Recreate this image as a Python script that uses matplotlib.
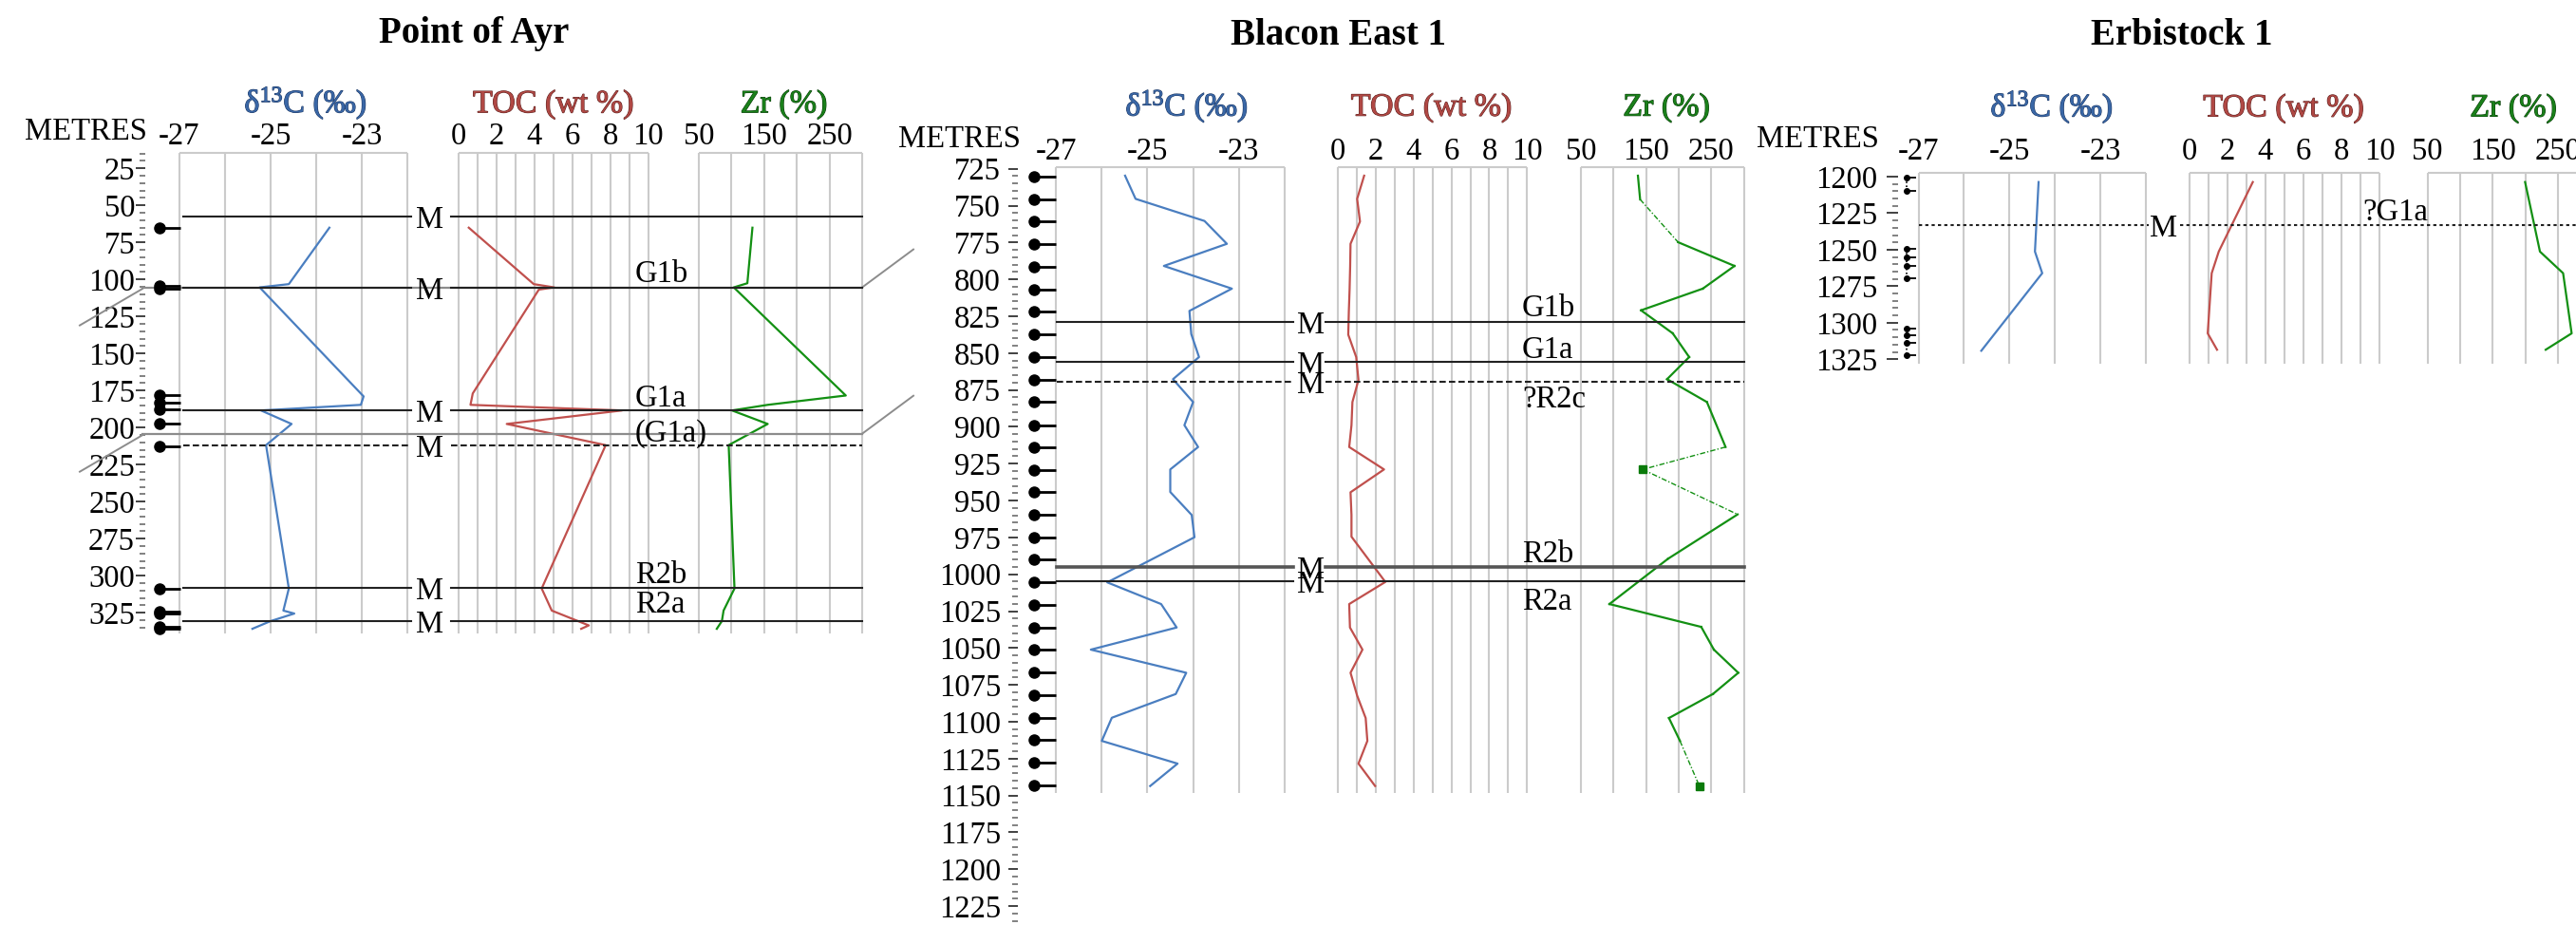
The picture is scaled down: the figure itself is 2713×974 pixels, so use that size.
import numpy as np
import matplotlib
matplotlib.use("Agg")
import matplotlib.pyplot as plt
import matplotlib.patheffects as pe
from matplotlib.ticker import FixedLocator, MultipleLocator
from matplotlib.transforms import offset_copy, blended_transform_factory

# ======================= DATA =======================
# ---- Point of Ayr ----
poa_d13c_depth = [65.1, 103.2, 105.4, 179.0, 184.7, 188.5, 197.6, 211.9, 308.7, 323.6, 325.6, 330.7, 335.9]
poa_d13c = [-23.71, -24.60, -25.24, -22.96, -23.02, -25.21, -24.54, -25.10, -24.60, -24.72, -24.48, -25.00, -25.40]
poa_toc_depth = [65.1, 103.2, 105.4, 106.9, 177.0, 184.7, 188.5, 197.6, 211.9, 308.7, 323.6, 333.6, 335.9]
poa_toc = [0.54, 3.96, 5.04, 4.23, 0.75, 0.63, 8.61, 2.54, 7.75, 4.38, 4.91, 6.86, 6.46]
poa_zr_depth = [65.1, 102.6, 105.4, 178.4, 184.7, 188.5, 197.6, 211.9, 308.7, 323.6, 330.7, 335.9]
poa_zr = [132.1, 124.3, 103.5, 275.1, 155.5, 100.9, 155.5, 95.7, 104.6, 87.9, 85.3, 77.5]
poa_samples = [65.1, 104.6, 106.0, 178.1, 183.3, 187.6, 197.6, 212.5, 308.7, 324.4, 325.8, 334.3, 335.7]
poa_markers = [57.3, 105.4, 188.5, 211.9, 308.4, 330.7]
poa_marker_uncertain = [False, False, False, True, False, False]
poa_breaks = [105.4, 204.2]
poa_labels = ["G1b", "G1a", "(G1a)", "R2b", "R2a"]
poa_label_depth = [101.8, 185.6, 209.1, 304.9, 324.9]
poa_depth_ticks = [25, 50, 75, 100, 125, 150, 175, 200, 225, 250, 275, 300, 325]

# ---- Blacon East 1 ----
bla_d13c_depth = [729.7, 745.4, 760.4, 775.9, 790.9, 806.3, 821.4, 837.1, 852.7, 867.7, 883.2, 898.9, 913.7,
                  928.9, 944.2, 959.8, 974.9, 1005.5, 1020.2, 1036.1, 1051.1, 1066.8, 1081.2, 1097.3, 1113.0,
                  1128.4, 1143.6]
bla_d13c = [-25.49, -25.26, -23.75, -23.26, -24.64, -23.15, -24.08, -24.04, -23.87, -24.44, -24.00, -24.19, -23.89,
            -24.50, -24.50, -24.03, -23.97, -25.88, -24.70, -24.36, -26.24, -24.15, -24.38, -25.78, -26.00,
            -24.34, -24.94]
bla_toc_depth = [729.7, 745.4, 760.8, 775.9, 791.5, 807.0, 822.0, 837.5, 852.7, 868.2, 883.2, 898.9, 913.7,
                 928.9, 944.4, 959.8, 974.5, 1005.2, 1020.2, 1036.1, 1051.1, 1066.8, 1082.3, 1097.5, 1113.0,
                 1128.4, 1143.6]
bla_toc = [1.39, 1.02, 1.17, 0.67, 0.65, 0.62, 0.58, 0.55, 0.97, 1.09, 0.77, 0.72, 0.60,
           2.44, 0.67, 0.72, 0.72, 2.51, 0.60, 0.64, 1.30, 0.67, 1.02, 1.47, 1.56, 1.09, 1.97]
bla_zr_depth = [729.7, 745.8, 774.8, 790.9, 806.3, 821.0, 836.6, 852.7, 867.7, 883.2, 913.7, 928.9, 959.4,
                989.5, 1020.2, 1035.7, 1051.1, 1066.8, 1081.2, 1097.5, 1113.0, 1144.0]
bla_zr = [137.4, 140.8, 199.0, 285.5, 236.9, 142.2, 190.8, 216.0, 182.1, 243.2, 271.8, 144.7, 290.3,
          183.5, 93.7, 234.5, 253.9, 291.3, 252.4, 185.0, 201.9, 232.0]
bla_zr_gap_segments = [1, 10, 11, 20]      # segments bridging missing samples
bla_zr_isolated = [11, 21]                 # isolated samples
bla_samples = [730.4, 745.8, 760.8, 776.3, 791.5, 807.0, 822.0, 837.5, 852.7, 868.2, 883.2, 898.9, 913.9, 929.4,
               944.4, 959.6, 974.9, 990.1, 1005.5, 1020.6, 1036.3, 1051.3, 1066.8, 1081.8, 1097.5, 1112.5,
               1128.0, 1143.0]
bla_markers = [829.1, 855.9, 869.7, 994.8, 1004.9]
bla_marker_uncertain = [False, False, True, False, False]
bla_labels = ["G1b", "G1a", "?R2c", "R2b", "R2a"]
bla_label_depth = [825.2, 853.2, 887.0, 991.6, 1023.8]
bla_depth_ticks = [725, 750, 775, 800, 825, 850, 875, 900, 925, 950, 975, 1000, 1025, 1050, 1075, 1100,
                   1125, 1150, 1175, 1200, 1225]

# ---- Erbistock 1 ----
erb_d13c_depth = [1203.7, 1251.3, 1266.1, 1319.2]
erb_d13c = [-24.36, -24.44, -24.28, -25.62]
erb_toc_depth = [1203.7, 1251.3, 1266.1, 1307.3, 1318.5]
erb_toc = [3.34, 1.55, 1.18, 0.97, 1.46]
erb_zr_depth = [1203.7, 1251.3, 1266.1, 1307.3, 1318.5]
erb_zr = [199.5, 222.3, 257.8, 270.9, 231.1]
erb_samples = [1200.8, 1209.6, 1249.6, 1255.1, 1261.1, 1269.8, 1304.0, 1308.8, 1313.8, 1322.2]
erb_sample_groups = [(0, 1), (2, 5), (6, 9)]
erb_markers = [1233.0]
erb_labels = ["?G1a"]
erb_label_depth = [1229.7]
erb_depth_ticks = [1200, 1225, 1250, 1275, 1300, 1325]

# axis ticks
d13c_ticks = [-27, -25, -23]
toc_ticks = [0, 2, 4, 6, 8, 10]
zr_ticks = [50, 150, 250]

# ======================= STYLE / LAYOUT =======================
W, H = 2713, 974
FS = 23.5
GRID = '#cbcbcb'
C_D13, C_TOC, C_ZR = '#4a7ec0', '#c0504d', '#139013'
T_D13, T_TOC, T_ZR = '#3a67a6', '#b04844', '#1a801a'
E_D13, E_TOC, E_ZR = '#1f3a66', '#5e2220', '#0b3d0b'

plt.rcParams['font.family'] = ['Liberation Serif', 'DejaVu Serif']
plt.rcParams['mathtext.fontset'] = 'custom'
plt.rcParams['mathtext.rm'] = 'Liberation Serif'
plt.rcParams['mathtext.it'] = 'Liberation Serif:italic'
plt.rcParams['mathtext.bf'] = 'Liberation Serif:bold'

fig = plt.figure(figsize=(W / 100, H / 100), dpi=100)
fig_ax = fig.add_axes([0, 0, 1, 1])
fig_ax.set_xlim(0, W)
fig_ax.set_ylim(H, 0)
fig_ax.axis('off')


def px_axes(x0, y0, x1, y1):
    return fig.add_axes([x0 / W, 1 - y1 / H, (x1 - x0) / W, (y1 - y0) / H])


def y2d(p, y):
    return p['d_ref'] + (y - p['y_ref']) / p['s']


def overlay(p):
    ov = fig.add_axes([0, 0, 1, 1])
    ov.set_xlim(0, W)
    ov.set_ylim(y2d(p, H), y2d(p, 0))
    ov.axis('off')
    ov.patch.set_alpha(0)
    return ov


def column(p, x0, x1, lo, hi, step, ticks, title, tcolor, ecolor, title_x):
    top, bot = p['top'], p['bottom']
    ax = px_axes(x0, top, x1, bot)
    dtop, dbot = y2d(p, top), y2d(p, bot)
    ax.set_xlim(lo, hi)
    ax.set_ylim(dbot, dtop)
    ax.axis('off')
    ax.vlines(np.arange(lo, hi + step / 2, step), dbot, dtop, color=GRID, lw=1.5, zorder=0, clip_on=False)
    ax.hlines(dtop, lo, hi, color=GRID, lw=1.5, zorder=0, clip_on=False)
    tr = blended_transform_factory(ax.transData, fig_ax.transData)
    for v in ticks:
        ax.text(v, p['tick_base'], f'{v:g}', transform=tr, ha='center', va='baseline', fontsize=FS)
    fig_ax.text(title_x, p['title_base'], title, color=tcolor, ha='center', va='baseline', fontsize=FS + 1,
                path_effects=[pe.withStroke(linewidth=0.8, foreground=ecolor)])
    return ax


def depth_axis(p, x, dmin, dmax, majors, major_len, pad):
    top = p['y_ref'] + (dmin - p['d_ref']) * p['s']
    bot = p['y_ref'] + (dmax - p['d_ref']) * p['s']
    ax = px_axes(x - 1, top, x, bot)
    ax.set_ylim(dmax, dmin)
    ax.set_xticks([])
    for sp in ax.spines.values():
        sp.set_visible(False)
    ax.patch.set_alpha(0)
    ax.yaxis.set_major_locator(FixedLocator(majors))
    ax.yaxis.set_minor_locator(MultipleLocator(5))
    ax.set_yticklabels([str(m) for m in majors])
    ax.tick_params(axis='y', which='major', length=major_len * 0.72, width=1.3, color='#333333',
                   pad=pad * 0.72, labelsize=FS)
    ax.tick_params(axis='y', which='minor', length=6 * 0.72, width=1.3, color='#777777')
    return ax


def markers(ov, depths, uncertain, segs, style_thick=None, dash=(0, (3.2, 1.6))):
    for i, d in enumerate(depths):
        ls = dash if uncertain[i] else '-'
        col, lw = '#222222', 1.5
        if style_thick is not None and i in style_thick:
            col, lw = '#555555', 2.6
        for xa, xb in segs:
            ov.plot([xa, xb], [d, d], color=col, lw=lw, ls=ls, zorder=3)


def m_labels(ov, depths, xm):
    tr = offset_copy(ov.transData, fig=fig, x=0, y=-12, units='dots')
    for d in depths:
        ov.text(xm, d, 'M', transform=tr, ha='center', va='baseline', fontsize=FS, zorder=4)


D13_TITLE = r'δ$^{\mathrm{13}}$C (‰)'

# ======================= POINT OF AYR =======================
poa = dict(d_ref=25, y_ref=177.2, s=1.5597, top=160.7, bottom=667.4, tick_base=151.8, title_base=118.3)
fig_ax.text(499, 45, 'Point of Ayr', ha='center', va='baseline', fontsize=28, fontweight='bold')
fig_ax.text(155, 147, 'METRES', ha='right', va='baseline', fontsize=FS)
a1 = column(poa, 189, 429, -27, -22, 1, d13c_ticks, D13_TITLE, T_D13, E_D13, 322)
a2 = column(poa, 482.9, 682.9, 0, 10, 1, toc_ticks, 'TOC (wt %)', T_TOC, E_TOC, 582.7)
a3 = column(poa, 736, 907.9, 50, 300, 50, zr_ticks, 'Zr (%)', T_ZR, E_ZR, 825.5)
a1.plot(poa_d13c, poa_d13c_depth, color=C_D13, lw=1.6, clip_on=False, zorder=5)
a2.plot(poa_toc, poa_toc_depth, color=C_TOC, lw=1.6, clip_on=False, zorder=5)
a3.plot(poa_zr, poa_zr_depth, color=C_ZR, lw=1.6, clip_on=False, zorder=5)
depth_axis(poa, 154, 15, 339, poa_depth_ticks, 10, 1)

ov = overlay(poa)
s = poa['s']
for d in poa_breaks:
    ov.plot([150, 908], [d, d], color='#8c8c8c', lw=1.6, zorder=2)
    ov.plot([150, 84], [d + 1.5 / s, d + 40 / s], color='#8c8c8c', lw=1.4, zorder=2)
    ov.plot([908, 962], [d, d - 40 / s], color='#8c8c8c', lw=1.4, zorder=2)
markers(ov, poa_markers, poa_marker_uncertain, [(193, 433), (474.6, 907.9)])
m_labels(ov, poa_markers, 453)
for lab, d in zip(poa_labels, poa_label_depth):
    ov.text(669, d, lab, ha='left', va='baseline', fontsize=FS)
ov.hlines(poa_samples, 168.3, 190, color='black', lw=2)
ov.plot([168.3] * len(poa_samples), poa_samples, 'o', ms=8, color='black')

# ======================= BLACON EAST 1 =======================
bla = dict(d_ref=725, y_ref=177.7, s=1.5527, top=176, bottom=835, tick_base=168.3, title_base=121.7)
fig_ax.text(1410, 46.7, 'Blacon East 1', ha='center', va='baseline', fontsize=28, fontweight='bold')
fig_ax.text(1075, 155, 'METRES', ha='right', va='baseline', fontsize=FS)
b1 = column(bla, 1112.3, 1352.7, -27, -22, 1, d13c_ticks, D13_TITLE, T_D13, E_D13, 1250)
b2 = column(bla, 1409, 1608.3, 0, 10, 1, toc_ticks, 'TOC (wt %)', T_TOC, E_TOC, 1507.5)
b3 = column(bla, 1665, 1836.7, 50, 300, 50, zr_ticks, 'Zr (%)', T_ZR, E_ZR, 1755)
b1.plot(bla_d13c, bla_d13c_depth, color=C_D13, lw=1.6, clip_on=False, zorder=5)
b2.plot(bla_toc, bla_toc_depth, color=C_TOC, lw=1.6, clip_on=False, zorder=5)
for i in range(len(bla_zr) - 1):
    if i in bla_zr_gap_segments:
        b3.plot(bla_zr[i:i + 2], bla_zr_depth[i:i + 2], color=C_ZR, lw=1.0,
                ls=(0, (4, 1.5, 1, 1.5)), clip_on=False, zorder=5)
    else:
        b3.plot(bla_zr[i:i + 2], bla_zr_depth[i:i + 2], color=C_ZR, lw=1.6, clip_on=False, zorder=5)
b3.plot([bla_zr[i] for i in bla_zr_isolated], [bla_zr_depth[i] for i in bla_zr_isolated], 's',
        color='#0a7a0a', ms=5.5, clip_on=False, zorder=6)
depth_axis(bla, 1073, 724, 1236, bla_depth_ticks, 10, 8)

ovb = overlay(bla)
markers(ovb, bla_markers, bla_marker_uncertain, [(1113, 1362), (1396, 1836.7)], style_thick=[3])
m_labels(ovb, bla_markers, 1381)
for lab, d in zip(bla_labels, bla_label_depth):
    ovb.text(1603, d, lab, ha='left', va='baseline', fontsize=FS)
ovb.hlines(bla_samples, 1089.3, 1111.7, color='black', lw=2)
ovb.plot([1089.3] * len(bla_samples), bla_samples, 'o', ms=8, color='black')

# ======================= ERBISTOCK 1 =======================
erb = dict(d_ref=1200, y_ref=186, s=1.538, top=182.3, bottom=383.3, tick_base=168.3, title_base=122.5)
fig_ax.text(2298, 46.7, 'Erbistock 1', ha='center', va='baseline', fontsize=28, fontweight='bold')
fig_ax.text(1979, 155, 'METRES', ha='right', va='baseline', fontsize=FS)
e1 = column(erb, 2020.6, 2260, -27, -22, 1, d13c_ticks, D13_TITLE, T_D13, E_D13, 2161)
e2 = column(erb, 2305.7, 2506, 0, 10, 1, toc_ticks, 'TOC (wt %)', T_TOC, E_TOC, 2405)
e3 = column(erb, 2556.7, 2728.4, 50, 300, 50, zr_ticks, 'Zr (%)', T_ZR, E_ZR, 2647)
e1.plot(erb_d13c, erb_d13c_depth, color=C_D13, lw=1.6, clip_on=False, zorder=5)
e2.plot(erb_toc, erb_toc_depth, color=C_TOC, lw=1.6, clip_on=False, zorder=5)
e3.plot(erb_zr, erb_zr_depth, color=C_ZR, lw=1.6, clip_on=False, zorder=5)
depth_axis(erb, 2000, 1197.5, 1327.5, erb_depth_ticks, 12, 10)

ove = overlay(erb)
markers(ove, erb_markers, [True], [(2020.6, 2262.8), (2295.8, 2713)], dash=(0, (1.6, 1.6)))
m_labels(ove, erb_markers, 2279)
for lab, d in zip(erb_labels, erb_label_depth):
    ove.text(2488, d, lab, ha='left', va='baseline', fontsize=FS)
for a, b in erb_sample_groups:
    ove.plot([2008, 2008], [erb_samples[a], erb_samples[b]], color='black', lw=1.2, ls=(0, (1, 1.5)))
ove.hlines(erb_samples, 2008, 2018, color='black', lw=1.3)
ove.plot([2008] * len(erb_samples), erb_samples, 'o', ms=4, color='black')

fig.savefig('out.png', dpi=100)
